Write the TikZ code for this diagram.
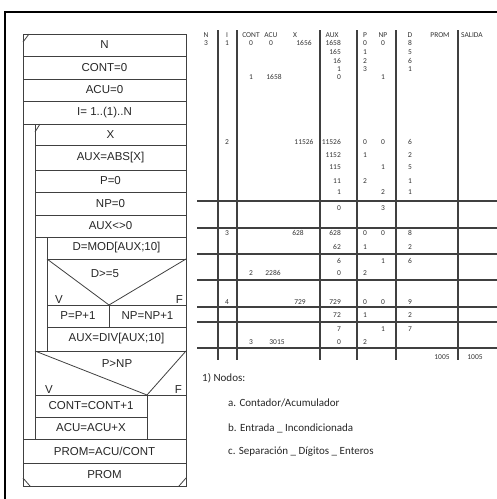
\documentclass[tikz,border=0pt]{standalone}
\usepackage{fontspec}
\setmainfont{Liberation Sans}
\newfontfamily\notefont{Carlito}
\usetikzlibrary{positioning,calc}

\begin{document}
\begin{tikzpicture}
[
    x=1pt, y=-1pt,
    nsline/.style={draw=black!75, line width=.8pt},
    nsbox/.style={nsline, rectangle, inner sep=0pt, outer sep=0pt, text=black!85,
        font=\fontsize{11.5}{13}\selectfont},
    nstext/.style={inner sep=1pt, text=black!85, font=\fontsize{11.5}{13}\selectfont},
    tline/.style={draw=black!75, line width=1.1pt},
    tcell/.style={inner sep=0pt, text=black!80, font=\notefont\fontsize{7.5}{8}\selectfont},
    notetext/.style={anchor=west, inner sep=0pt, text=black!85, font=\notefont\fontsize{11}{13}\selectfont},
]
\useasboundingbox (0,0) rectangle (497,499);
\draw[line width=1.4pt] (5,499) -- (5,12) -- (497,12);

% diagrama N-S
\node[nsbox, anchor=north west, minimum width=163pt, minimum height=22pt] (nread) at (23,34) {N};
\node[nsbox, anchor=north, minimum width=163pt, minimum height=23pt] (cont0) at (nread.south) {CONT=0};
\node[nsbox, anchor=north, minimum width=163pt, minimum height=22pt] (acu0) at (cont0.south) {ACU=0};
\node[nsbox, anchor=north, minimum width=163pt, minimum height=23pt] (fori) at (acu0.south) {I= 1..(1)..N};
\node[nsbox, anchor=north east, minimum width=151pt, minimum height=21pt] (xread) at (fori.south east) {X};
\node[nsbox, anchor=north, minimum width=151pt, minimum height=25pt] (absx) at (xread.south) {AUX=ABS[X]};
\node[nsbox, anchor=north, minimum width=151pt, minimum height=22pt] (p0) at (absx.south) {P=0};
\node[nsbox, anchor=north, minimum width=151pt, minimum height=23pt] (np0) at (p0.south) {NP=0};
\node[nsbox, anchor=north, minimum width=151pt, minimum height=22pt] (whil) at (np0.south) {AUX<>0};
\node[nsbox, anchor=north east, minimum width=139pt, minimum height=22pt] (dmod) at (whil.south east) {D=MOD[AUX;10]};
\node[nsbox, anchor=north, minimum width=139pt, minimum height=46pt] (dec1) at (dmod.south) {};
\node[nsbox, anchor=north west, minimum width=62pt, minimum height=22pt] (pp) at (dec1.south west) {P=P+1};
\node[nsbox, anchor=north east, minimum width=77pt, minimum height=22pt] (npp) at (dec1.south east) {NP=NP+1};
\node[nsbox, anchor=north east, minimum width=139pt, minimum height=24pt] (adiv) at (npp.south east) {AUX=DIV[AUX;10]};
\node[nsbox, anchor=north east, minimum width=151pt, minimum height=44pt] (dec2) at (adiv.south east) {};
\node[nsbox, anchor=north west, minimum width=112pt, minimum height=22pt] (contp) at (dec2.south west) {CONT=CONT+1};
\node[nsbox, anchor=north, minimum width=112pt, minimum height=22pt] (acup) at (contp.south) {ACU=ACU+X};
\node[nsbox, anchor=north east, minimum width=163pt, minimum height=24pt] (prom1) at (dec2.south east |- acup.south) {PROM=ACU/CONT};
\node[nsbox, anchor=north, minimum width=163pt, minimum height=23pt] (prom2) at (prom1.south) {PROM};

\draw[nsline] (fori.south west) -- (prom1.north west);
\draw[nsline] (whil.south west) -- (dec2.north west);
\draw[nsline] (dec2.south east) -- (prom1.north east);
\draw[nsline] (dec1.north west) -- (pp.north east) -- (dec1.north east);
\draw[nsline] (dec2.north west) -- (contp.north east) -- (dec2.north east);
\draw[nsline] ($(nread.north west)+(0,8)$) -- ($(nread.north west)+(6,0)$);
\draw[nsline] ($(xread.north west)+(0,8)$) -- ($(xread.north west)+(5,0)$);
\draw[nsline] ($(prom2.south west)+(0,-8)$) -- ($(prom2.south west)+(7,0)$);
\draw[nsline] ($(prom2.south east)+(0,-8)$) -- ($(prom2.south east)+(-7,0)$);

\node[nstext] (dge5) at (105,274) {D>=5};
\node[nstext, anchor=south west] (dge5v) at ($(dec1.south west)+(7,0)$) {V};
\node[nstext, anchor=south east] (dge5f) at ($(dec1.south east)+(-2,0)$) {F};
\node[nstext] (pgnp) at (117,364) {P>NP};
\node[nstext, anchor=south west] (pgnpv) at ($(dec2.south west)+(9,0)$) {V};
\node[nstext, anchor=south east] (pgnpf) at ($(dec2.south east)+(-3,0)$) {F};

% prueba de escritorio
\foreach \x in {218,237,320,357,396,458}
    \draw[tline] (\x,30) -- (\x,360);
\foreach \y in {201,228,254,280,307,322,348}
    \draw[tline] (197,\y) -- (497,\y);

\foreach \x/\t [count=\k] in {206/N, 227/I, 251/CONT, 271/ACU, 295/X, 332/AUX,
    365/P, 383/NP, 410/D, 440/PROM, 472/SALIDA}
    \node[tcell] (head\k) at (\x,35) {\t};

\foreach \x/\y/\t [count=\k] in {206/43/3, 227/43/1, 251/43/0, 271/43/0, 304/43/1656,
    365/43/0, 383/43/0, 410/43/8, 365/52/1, 410/52/5, 365/61/2, 410/61/6,
    365/69/3, 410/69/1, 251/77/1, 274/77/1658, 383/77/1,
    227/142/2, 304/142/11526, 365/142/0, 383/142/0, 410/142/6,
    365/155/1, 410/155/2, 383/167/1, 410/167/5, 365/181/2, 410/181/1,
    383/192/2, 410/192/1, 383/208/3,
    227/233/3, 298/233/628, 365/233/0, 383/233/0, 410/233/8,
    365/247/1, 410/247/2, 383/261/1, 410/261/6,
    251/273/2, 273/273/2286, 365/273/2,
    227/302/4, 300/302/729, 365/302/0, 383/302/0, 410/302/9,
    365/315/1, 410/315/2, 383/329/1, 410/329/7,
    251/342/3, 277/342/3015, 365/342/2,
    442/357/1005, 475/357/1005}
    \node[tcell] (val\k) at (\x,\y) {\t};

\foreach \y/\t [count=\k] in {43/1658, 52/165, 61/16, 69/1, 77/0, 142/11526,
    155/1152, 167/115, 181/11, 192/1, 208/0, 233/628, 247/62, 261/6, 273/0,
    302/729, 315/72, 329/7, 342/0}
    \node[tcell, anchor=east] (aux\k) at (341,\y) {\t};

% nodos
\node[notetext] (nodos) at (202,378) {1) Nodos:};
\node[notetext] (itema) at (228,403) {a. Contador/Acumulador};
\node[notetext] (itemb) at (228,428) {b. Entrada \_ Incondicionada};
\node[notetext] (itemc) at (228,452) {c. Separación \_ Dígitos \_ Enteros};
\end{tikzpicture}
\end{document}
